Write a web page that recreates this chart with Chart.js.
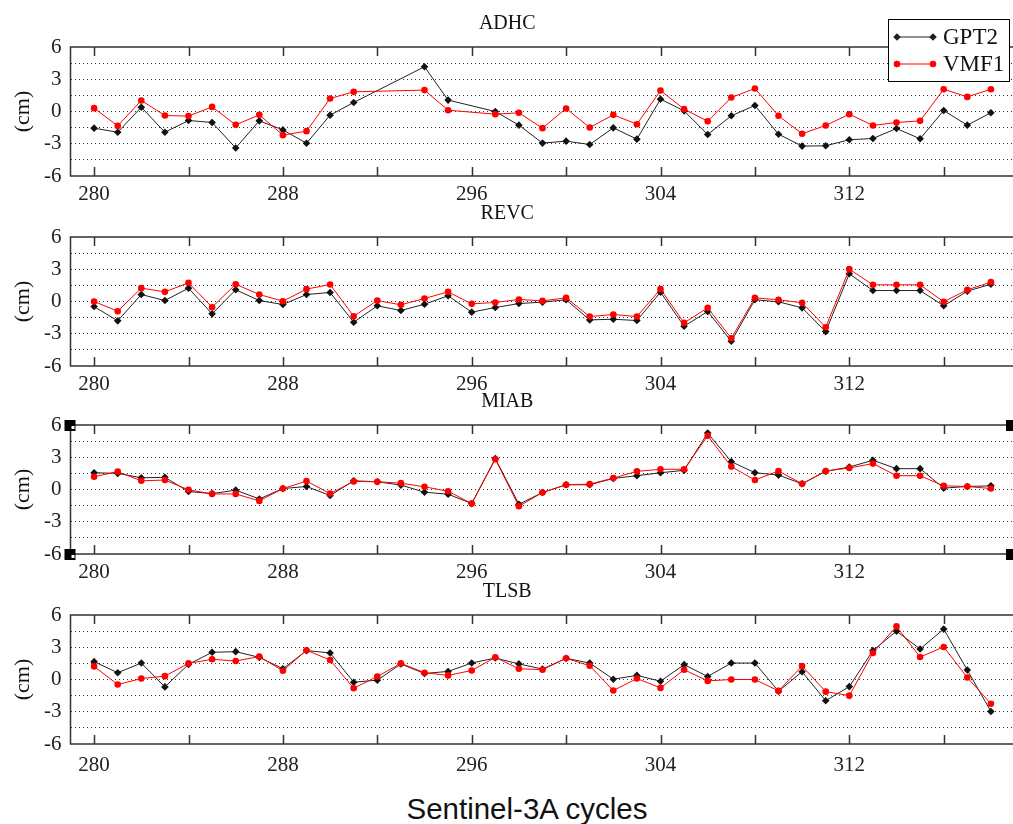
<!DOCTYPE html>
<html>
<head>
<meta charset="utf-8">
<script src="https://cdn.jsdelivr.net/npm/chart.js@4/dist/chart.umd.min.js"></script>
<style>
  html, body { margin: 0; padding: 0; background: #fff; overflow: hidden; }
  body { width: 1013px; height: 824px; position: relative; }
  .panel { position: absolute; left: 0; }
  #xlabel { position: absolute; top: 794px; left: 0; width: 1054px; text-align: center;
            font: 29.5px/30px "Liberation Sans", Arial, sans-serif; color: #111; }
</style>
</head>
<body>
<canvas class="panel" id="adhc" width="1020" height="206" style="top:0px"></canvas>
<canvas class="panel" id="revc" width="1020" height="206" style="top:190px"></canvas>
<canvas class="panel" id="miab" width="1020" height="206" style="top:378px"></canvas>
<canvas class="panel" id="tlsb" width="1020" height="210" style="top:568px"></canvas>
<div id="xlabel">Sentinel-3A cycles</div>
<script>
// cycles 280..318, null = no data
var cycles = [];
for (var c = 280; c <= 318; c++) cycles.push(c);

var xTicks = [280, 284, 288, 292, 296, 300, 304, 308, 312, 316];
var yTicks = [-6, -4.5, -3, -1.5, 0, 1.5, 3, 4.5, 6];

var adhcGPT2 = [-1.55, -1.93, 0.40, -1.93, -0.84, -1.02, -3.39, -0.87, -1.71, -2.95, -0.34, 0.84, null, null, 4.16, 1.06, null, 0.00, -1.27,
                -2.94, -2.76, -3.07, -1.52, -2.57, 1.15, 0.06, -2.14, -0.40, 0.56, -2.11, -3.22, -3.19, -2.63, -2.51, -1.58, -2.54, 0.09, -1.27, -0.12];
var adhcVMF1 = [0.31, -1.34, 1.02, -0.37, -0.43, 0.43, -1.24, -0.31, -2.20, -1.83, 1.21, 1.83, null, null, 1.99, 0.12, null, -0.25, -0.12,
                -1.55, 0.28, -1.49, -0.31, -1.18, 1.95, 0.22, -0.90, 1.30, 2.14, -0.40, -2.07, -1.30, -0.25, -1.30, -1.02, -0.87, 2.07, 1.36, 2.07];

var revcGPT2 = [-0.47, -1.80, 0.65, 0.09, 1.24, -1.15, 1.09, 0.09, -0.28, 0.65, 0.84, -1.93, -0.40, -0.84, -0.25, 0.53, -0.99, -0.56, -0.19,
                -0.06, 0.16, -1.71, -1.65, -1.77, 0.87, -2.30, -0.93, -3.70, 0.16, -0.03, -0.59, -2.80, 2.58, 1.02, 1.02, 1.02, -0.40, 0.96, 1.61];
var revcVMF1 = [0.00, -0.90, 1.24, 0.90, 1.74, -0.53, 1.61, 0.65, 0.03, 1.15, 1.58, -1.37, 0.09, -0.31, 0.28, 0.90, -0.22, -0.09, 0.19,
                0.06, 0.34, -1.40, -1.21, -1.40, 1.15, -1.99, -0.59, -3.42, 0.34, 0.16, -0.12, -2.39, 3.01, 1.55, 1.55, 1.55, -0.03, 1.09, 1.80];

var miabGPT2 = [1.56, 1.50, 1.09, 1.13, -0.19, -0.38, -0.06, -0.88, 0.09, 0.28, -0.56, 0.81, 0.72, 0.41, -0.25, -0.44, -1.31, 2.88, -1.37,
                -0.28, 0.44, 0.44, 1.03, 1.28, 1.56, 1.78, 5.25, 2.59, 1.56, 1.34, 0.53, 1.69, 2.09, 2.72, 1.94, 1.94, 0.13, 0.28, 0.34];
var miabVMF1 = [1.19, 1.66, 0.81, 0.88, -0.03, -0.41, -0.41, -1.06, 0.09, 0.78, -0.38, 0.75, 0.72, 0.59, 0.25, -0.16, -1.31, 2.81, -1.56,
                -0.28, 0.44, 0.50, 1.06, 1.69, 1.88, 1.88, 5.00, 2.13, 0.88, 1.72, 0.53, 1.72, 2.00, 2.41, 1.28, 1.28, 0.34, 0.28, 0.09];

var tlsbGPT2 = [1.66, 0.63, 1.53, -0.69, 1.41, 2.53, 2.59, 2.06, 1.00, 2.69, 2.47, -0.25, -0.06, 1.44, 0.56, 0.75, 1.53, 2.00, 1.45,
                0.97, 1.97, 1.53, 0.03, 0.38, -0.16, 1.38, 0.28, 1.53, 1.53, -1.09, 0.72, -1.97, -0.66, 2.69, 4.50, 2.84, 4.69, 0.88, -2.97];
var tlsbVMF1 = [1.22, -0.47, 0.09, 0.31, 1.50, 1.88, 1.72, 2.13, 0.81, 2.72, 1.81, -0.81, 0.28, 1.50, 0.63, 0.38, 0.84, 2.06, 1.00,
                0.91, 1.97, 1.28, -1.03, 0.09, -0.78, 0.91, -0.13, 0.00, 0.00, -1.06, 1.25, -1.13, -1.50, 2.47, 4.94, 2.09, 3.03, 0.19, -2.25];

var SERIF = '"Liberation Serif", "Times New Roman", serif';

function toPoints(values) {
    var pts = [];
    for (var i = 0; i < cycles.length; i++) {
        pts.push({x: cycles[i], y: values[i]});
    }
    return pts;
}

function marker(ctx, style, x, y, r, color) {
    ctx.fillStyle = color;
    ctx.beginPath();
    if (style === 'rectRot') {
        ctx.moveTo(x, y - r); ctx.lineTo(x + r, y); ctx.lineTo(x, y + r); ctx.lineTo(x - r, y);
        ctx.closePath();
    } else {
        ctx.arc(x, y, r, 0, Math.PI * 2);
    }
    ctx.fill();
}

// frame, inward ticks, legend and the odd selection handles of the MIAB panel
var framePlugin = {
    id: 'frame',
    afterDraw: function (chart, args, opts) {
        var ctx = chart.ctx;
        var a = chart.chartArea;
        var xs = chart.scales.x;
        ctx.save();
        ctx.strokeStyle = '#333';
        ctx.lineWidth = 1.5;
        ctx.beginPath();
        ctx.moveTo(a.right + 5, a.top); ctx.lineTo(a.left, a.top);
        ctx.lineTo(a.left, a.bottom); ctx.lineTo(a.right + 5, a.bottom);
        ctx.stroke();
        ctx.beginPath();
        xTicks.forEach(function (v) {
            var px = Math.round(xs.getPixelForValue(v)) + 0.5;
            ctx.moveTo(px, a.top); ctx.lineTo(px, a.top + 9);
            ctx.moveTo(px, a.bottom); ctx.lineTo(px, a.bottom - 9);
        });
        ctx.stroke();

        if (opts.handles) {
            ctx.fillStyle = '#000';
            [[a.left, a.top], [a.left, a.bottom], [1012, a.top], [1012, a.bottom]].forEach(function (p) {
                ctx.fillRect(p[0] - 6, p[1] - 5, 11, 11);
                ctx.fillStyle = '#fff';
                ctx.fillRect(p[0] + 1, p[1] + 1, 3, 3);
                ctx.fillStyle = '#000';
            });
        }

        if (opts.legend) {
            ctx.fillStyle = '#fff';
            ctx.fillRect(888, 19.5, 121, 62);
            ctx.strokeStyle = '#000';
            ctx.lineWidth = 1;
            ctx.strokeRect(888.5, 19.5, 121, 62);
            var rows = [
                {label: 'GPT2', color: '#222', style: 'rectRot', y: 37},
                {label: 'VMF1', color: '#ff0000', style: 'circle', y: 64}
            ];
            rows.forEach(function (r) {
                ctx.strokeStyle = r.color;
                ctx.lineWidth = 1;
                ctx.beginPath();
                ctx.moveTo(897, r.y); ctx.lineTo(933, r.y);
                ctx.stroke();
                marker(ctx, r.style, 897, r.y, r.style === 'circle' ? 3.3 : 3.8, r.color);
                marker(ctx, r.style, 933, r.y, r.style === 'circle' ? 3.3 : 3.8, r.color);
                ctx.fillStyle = '#111';
                ctx.font = '23px ' + SERIF;
                ctx.textBaseline = 'middle';
                ctx.textAlign = 'left';
                ctx.fillText(r.label, 943, r.y + 1);
            });
        }
        ctx.restore();
    }
};

function makePanel(id, title, gpt2, vmf1, extra) {
    extra = extra || {};
    return new Chart(document.getElementById(id).getContext('2d'), {
        type: 'line',
        data: {
            datasets: [
                {
                    label: 'GPT2',
                    data: toPoints(gpt2),
                    borderColor: '#222',
                    backgroundColor: '#111',
                    borderWidth: 1,
                    pointStyle: 'rectRot',
                    pointRadius: 3.8,
                    pointBorderWidth: 0,
                    spanGaps: true,
                    order: 2
                },
                {
                    label: 'VMF1',
                    data: toPoints(vmf1),
                    borderColor: '#ff0000',
                    backgroundColor: '#ff0000',
                    borderWidth: 1,
                    pointStyle: 'circle',
                    pointRadius: 3.3,
                    pointBorderWidth: 0,
                    spanGaps: true,
                    order: 1
                }
            ]
        },
        options: {
            responsive: false,
            animation: false,
            devicePixelRatio: 1,
            layout: {padding: {left: 0, right: 5.5, top: 0, bottom: 0}},
            plugins: {
                legend: {display: false},
                tooltip: {enabled: false},
                title: {
                    display: true,
                    text: title,
                    color: '#111',
                    font: {family: SERIF, size: 20, weight: 'normal', lineHeight: 1.2},
                    padding: {top: 12, bottom: 11}
                },
                frame: {legend: !!extra.legend, handles: !!extra.handles}
            },
            scales: {
                x: {
                    type: 'linear',
                    min: 279,
                    max: 319,
                    afterBuildTicks: function (s) {
                        s.ticks = xTicks.map(function (v) { return {value: v}; });
                    },
                    afterFit: function (s) { s.height = extra.xh || 30; },
                    grid: {display: false, drawTicks: false},
                    border: {display: false},
                    ticks: {
                        autoSkip: false,
                        maxRotation: 0,
                        padding: extra.xpad || 6,
                        color: '#222',
                        font: {family: SERIF, size: 21},
                        callback: function (v) { return (v - 280) % 8 === 0 ? String(v) : ''; }
                    }
                },
                y: {
                    min: -6,
                    max: 6,
                    afterBuildTicks: function (s) {
                        s.ticks = yTicks.map(function (v) { return {value: v}; });
                    },
                    afterFit: function (s) { s.width = 70.5; },
                    grid: {
                        drawTicks: false,
                        lineWidth: 1,
                        color: function (ctx) {
                            var v = ctx.tick ? ctx.tick.value : 0;
                            return Math.abs(v) === 6 ? 'rgba(0,0,0,0)' : '#333';
                        }
                    },
                    border: {display: false, dash: [1, 3]},
                    title: {
                        display: true,
                        text: '(cm)',
                        color: '#111',
                        font: {family: SERIF, size: 22},
                        padding: {top: 10, bottom: 0}
                    },
                    ticks: {
                        autoSkip: false,
                        padding: 9,
                        color: '#222',
                        font: {family: SERIF, size: 21},
                        callback: function (v) { return v % 3 === 0 ? String(v) : ''; }
                    }
                }
            }
        },
        plugins: [framePlugin]
    });
}

makePanel('adhc', 'ADHC', adhcGPT2, adhcVMF1, {legend: true});
makePanel('revc', 'REVC', revcGPT2, revcVMF1);
makePanel('miab', 'MIAB', miabGPT2, miabVMF1, {handles: true});
makePanel('tlsb', 'TLSB', tlsbGPT2, tlsbVMF1, {xh: 34, xpad: 9});
</script>
</body>
</html>
